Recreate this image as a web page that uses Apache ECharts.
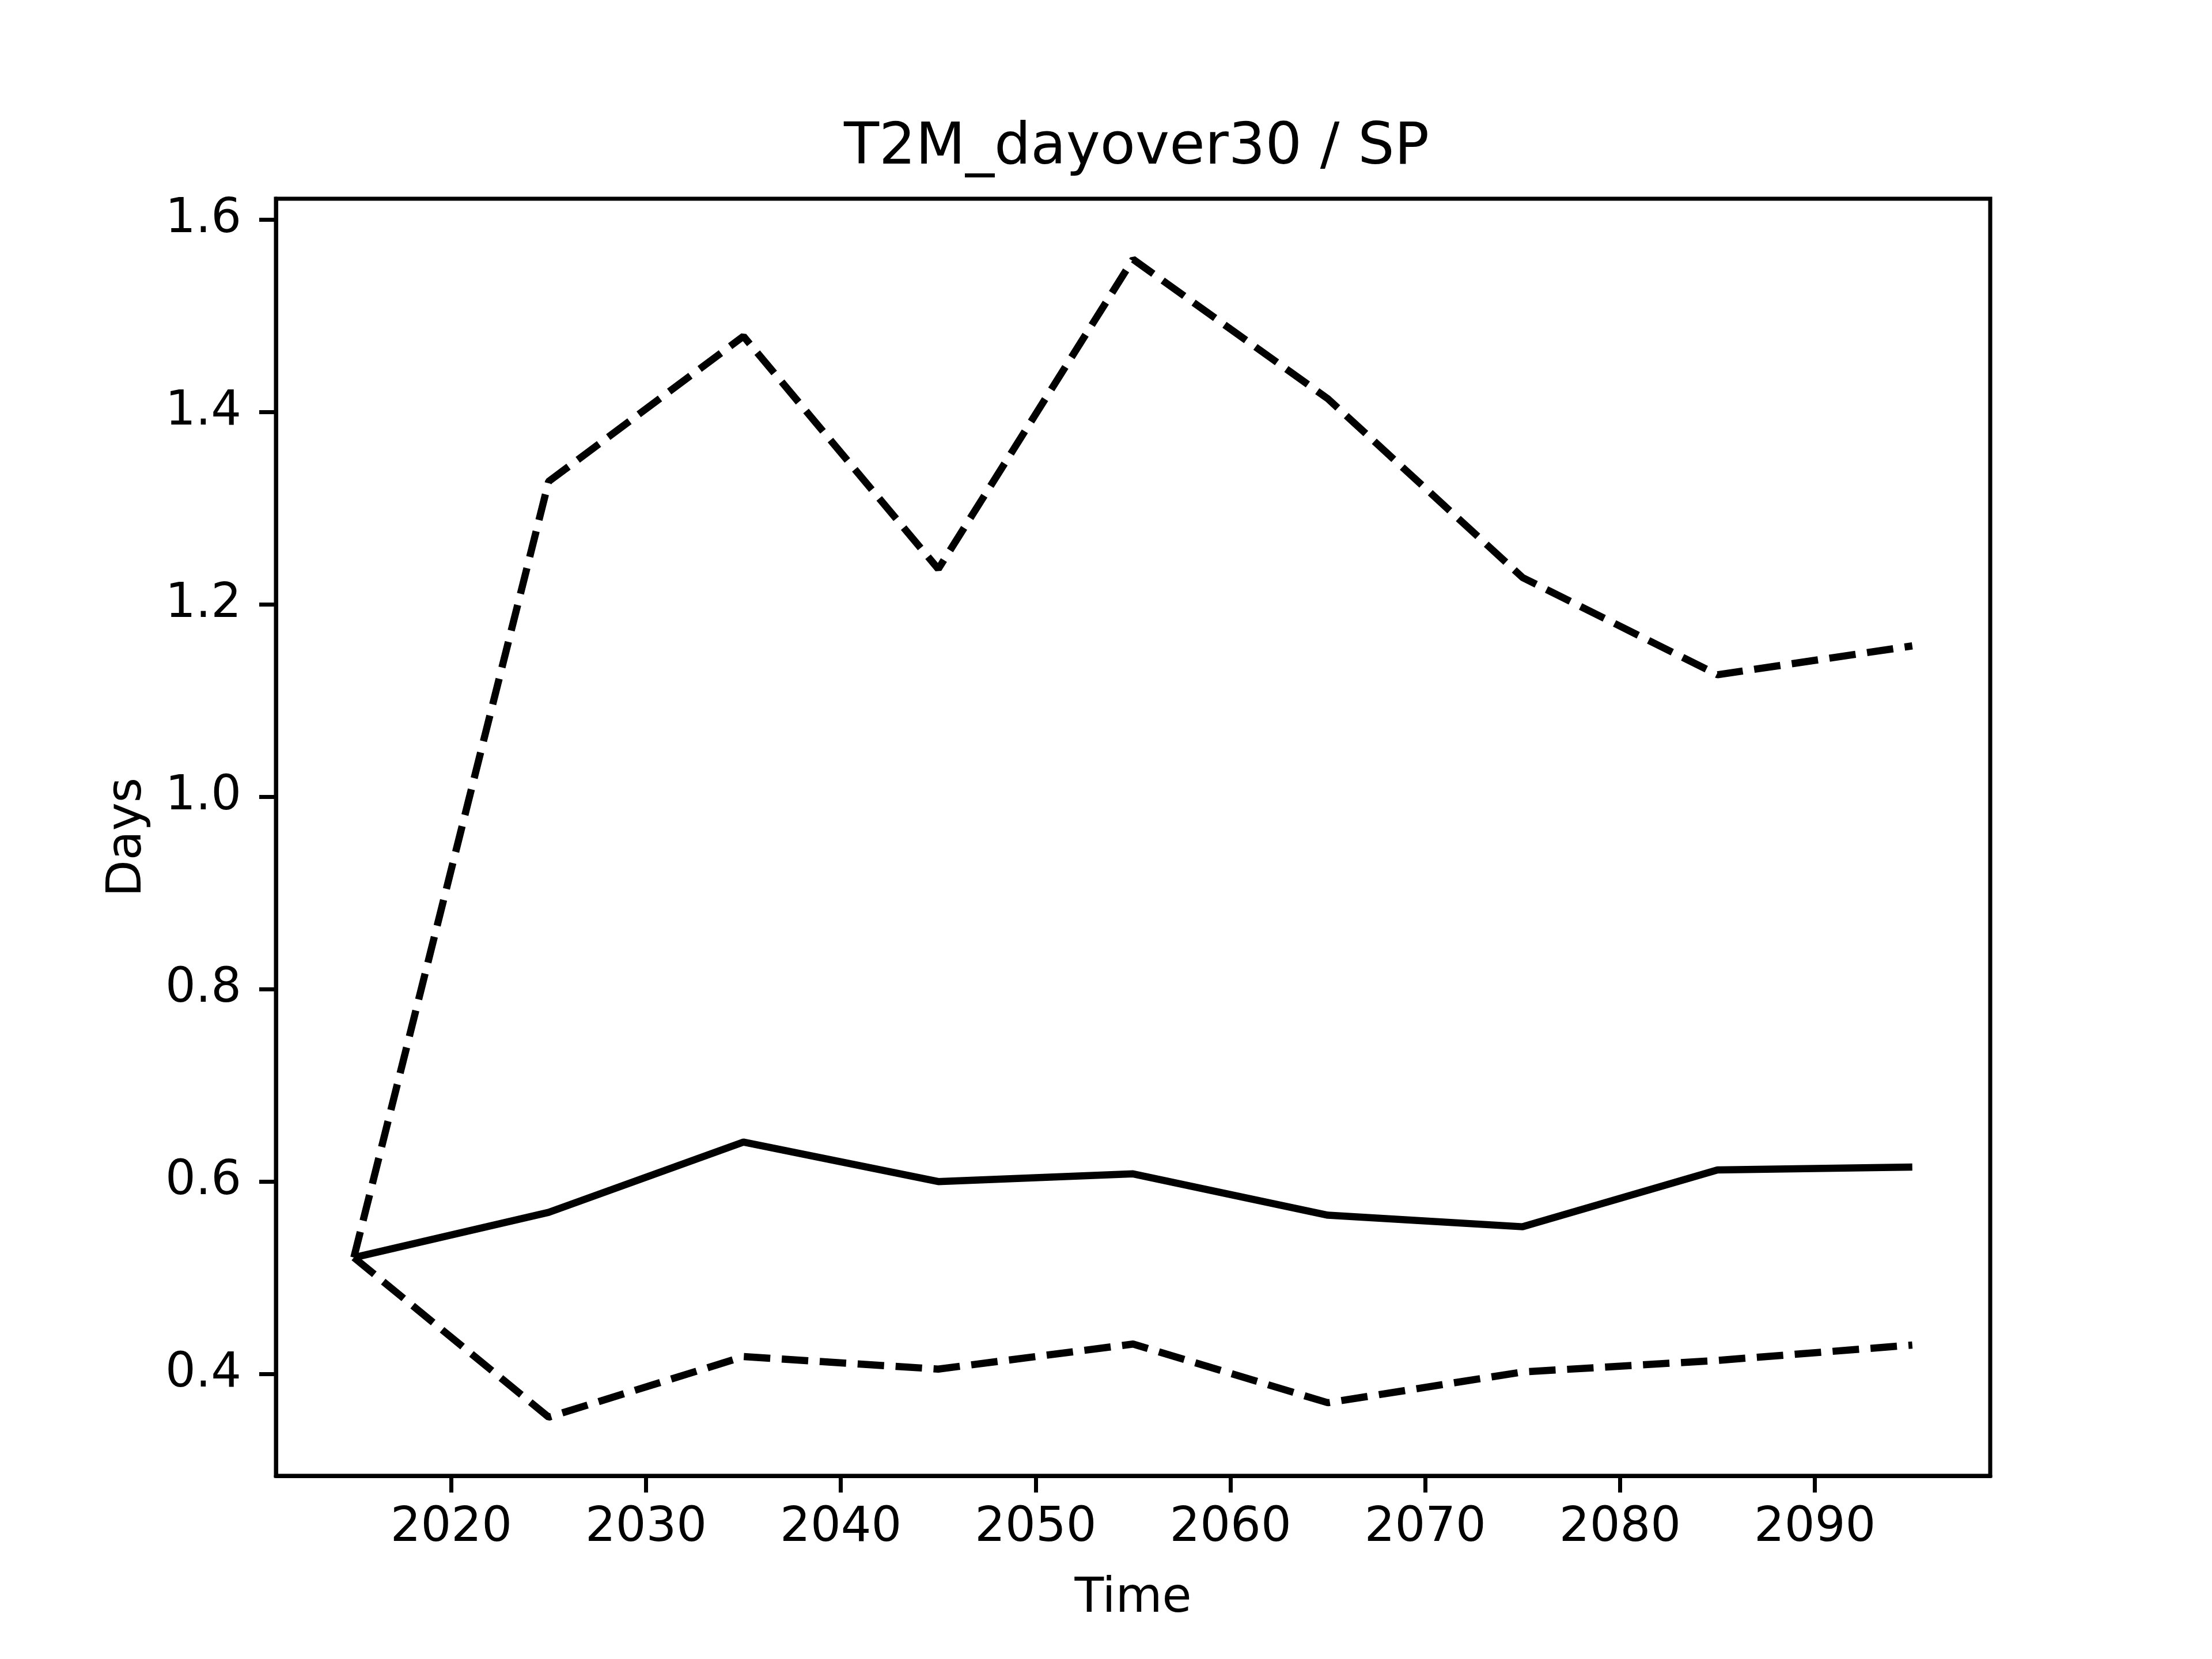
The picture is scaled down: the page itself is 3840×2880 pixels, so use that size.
<!DOCTYPE html>
<html>
<head>
<meta charset="utf-8">
<script src="https://cdn.jsdelivr.net/npm/echarts@6/dist/echarts.min.js"></script>
<style>html,body{margin:0;padding:0;background:#fff}#c{width:3840px;height:2880px}</style>
</head>
<body>
<div id="c"></div>
<script>
// Data
const years = [2015, 2025, 2035, 2045, 2055, 2065, 2075, 2085, 2095];
const meanDays = [0.521, 0.568, 0.641, 0.600, 0.608, 0.565, 0.553, 0.612, 0.615];
const upperDays = [0.521, 1.328, 1.479, 1.237, 1.559, 1.414, 1.228, 1.127, 1.157];
const lowerDays = [0.521, 0.355, 0.418, 0.405, 0.431, 0.370, 0.402, 0.414, 0.430];
const xTicks = [2020, 2030, 2040, 2050, 2060, 2070, 2080, 2090];
const yTicks = [0.4, 0.6, 0.8, 1.0, 1.2, 1.4, 1.6];

const pairs = (ys) => years.map((x, i) => [x, ys[i]]);
const FONT = 'DejaVu Sans';
const chart = echarts.init(document.getElementById('c'), null, {renderer: 'canvas'});

const dash = [46, 20];
chart.setOption({
  animation: false,
  backgroundColor: '#fff',
  title: {
    text: 'T2M_dayover30 / SP',
    left: 1968, top: 203, textAlign: 'center',
    textStyle: {fontFamily: FONT, fontSize: 100, fontWeight: 'normal', color: '#000'}
  },
  grid: {
    left: 479, top: 345, width: 2976, height: 2217,
    show: true, borderColor: '#000', borderWidth: 7, backgroundColor: '#fff'
  },
  xAxis: {
    type: 'value', min: 2011, max: 2099,
    name: 'Time', nameLocation: 'middle', nameGap: 173,
    nameTextStyle: {fontFamily: FONT, fontSize: 83, color: '#000'},
    splitLine: {show: false},
    axisLine: {show: true, lineStyle: {color: '#000', width: 7}},
    axisTick: {show: true, length: 29, lineStyle: {color: '#000', width: 7}, customValues: xTicks},
    axisLabel: {fontFamily: FONT, fontSize: 83, color: '#000', margin: 50, customValues: xTicks,
      formatter: (v) => String(v)}
  },
  yAxis: {
    type: 'value', min: 0.294, max: 1.622,
    name: 'Days', nameLocation: 'middle', nameGap: 215, nameRotate: 90,
    nameTextStyle: {fontFamily: FONT, fontSize: 83, color: '#000'},
    splitLine: {show: false},
    axisLine: {show: true, lineStyle: {color: '#000', width: 7}},
    axisTick: {show: true, length: 29, lineStyle: {color: '#000', width: 7}, customValues: yTicks},
    axisLabel: {fontFamily: FONT, fontSize: 83, color: '#000', margin: 60, customValues: yTicks,
      formatter: (v) => v.toFixed(1)}
  },
  series: [
    {type: 'line', data: pairs(meanDays), symbol: 'none', lineStyle: {color: '#000', width: 12.5, type: 'solid'}},
    {type: 'line', data: pairs(upperDays), symbol: 'none', lineStyle: {color: '#000', width: 12.5, type: dash}},
    {type: 'line', data: pairs(lowerDays), symbol: 'none', lineStyle: {color: '#000', width: 12.5, type: dash}}
  ]
});
</script>
</body>
</html>
